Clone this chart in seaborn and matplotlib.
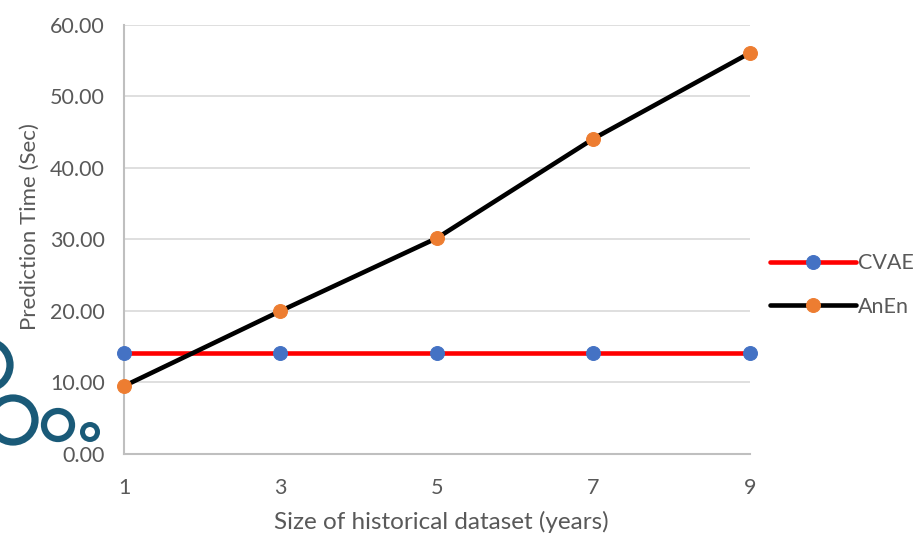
import matplotlib
matplotlib.use("Agg")
import matplotlib.pyplot as plt
import seaborn as sns
import pandas as pd
from matplotlib.patches import Ellipse

years = [1, 3, 5, 7, 9]
cvae = [14.1, 14.1, 14.1, 14.1, 14.1]
anen = [9.5, 20.0, 30.2, 44.1, 56.1]
y_ticks = [0, 10, 20, 30, 40, 50, 60]

sns.set_theme(style="white")
plt.rcParams['font.family'] = ['Lato', 'DejaVu Sans']

df = pd.DataFrame({
    "years": years * 2,
    "time": cvae + anen,
    "series": ["CVAE"] * 5 + ["AnEn"] * 5,
})

fig = plt.figure(figsize=(9.22, 5.4), dpi=100)
ax = fig.add_axes([0.1345, 0.1593, 0.6789, 0.7944])

text_col = "#595959"
sns.lineplot(data=df[df.series == "CVAE"], x="years", y="time", ax=ax,
             color="#FF0000", linewidth=3.3, marker="o", markersize=10,
             markerfacecolor="#4472C4", markeredgecolor="#4472C4",
             label="CVAE", zorder=3)
sns.lineplot(data=df[df.series == "AnEn"], x="years", y="time", ax=ax,
             color="#000000", linewidth=3.3, marker="o", markersize=10,
             markerfacecolor="#ED7D31", markeredgecolor="#ED7D31",
             label="AnEn", zorder=4)

for ln in ax.lines:
    ln.set_clip_on(False)

ax.set_xlim(1, 9)
ax.set_ylim(0, 60)
ax.set_xticks(years)
ax.set_xticklabels([str(v) for v in years])
ax.set_yticks(y_ticks)
ax.set_yticklabels([f"{v:.2f}" for v in y_ticks])
ax.tick_params(axis="both", length=0, labelsize=15.5, colors=text_col)
ax.tick_params(axis="x", pad=17)
ax.tick_params(axis="y", pad=14)

ax.grid(axis="y", color="#d9d9d9", linewidth=1.2)
ax.grid(axis="x", visible=False)
for s in ["top", "right"]:
    ax.spines[s].set_visible(False)
for s in ["left", "bottom"]:
    ax.spines[s].set_color("#bfbfbf")
    ax.spines[s].set_linewidth(1.5)

ax.set_xlabel("Size of historical dataset (years)", fontsize=17.5, color=text_col)
ax.set_ylabel("Prediction Time (Sec)", fontsize=16, color=text_col)
ax.xaxis.set_label_coords(0.507, -0.1585)
ax.xaxis.label.set_va("center")
ax.yaxis.set_label_coords(-0.150, 0.531)
ax.yaxis.label.set_va("center")

leg = ax.legend(loc="center left", bbox_to_anchor=(1.032, 0.394), frameon=False,
                fontsize=15.5, handlelength=4.0, labelspacing=1.1, handletextpad=0.1,
                borderpad=0, borderaxespad=0)
for t in leg.get_texts():
    t.set_color(text_col)

# decorative circles at the left edge
circ_col = "#1a5a78"
W, H = 922, 540
for cx, cy, r, lw in [(-14, 365, 24, 5.2), (13, 420, 22, 5.2), (58, 425, 14, 4.5), (90, 432, 7.5, 3.6)]:
    e = Ellipse((cx / W, 1 - cy / H), 2 * r / W, 2 * r / H, transform=fig.transFigure,
                fill=False, edgecolor=circ_col, linewidth=lw, clip_on=False)
    fig.patches.append(e)

fig.savefig("out.png", dpi=100)
